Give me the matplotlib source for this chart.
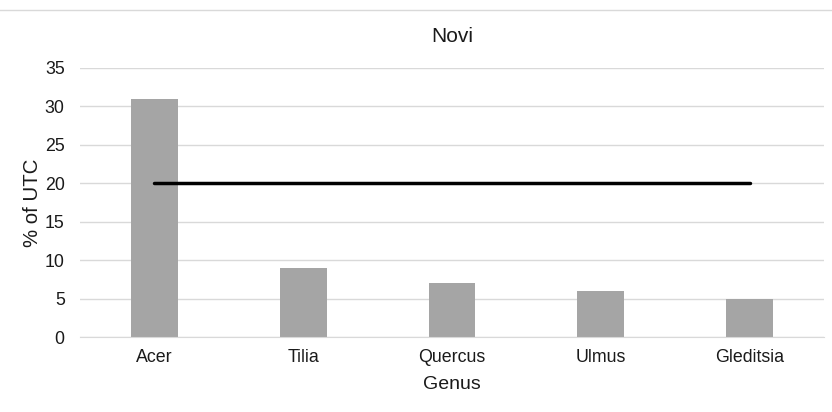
import matplotlib.pyplot as plt
from matplotlib.lines import Line2D

plt.rcParams['font.family'] = ['Liberation Sans', 'DejaVu Sans']

genus = ['Acer', 'Tilia', 'Quercus', 'Ulmus', 'Gleditsia']
utc_share = [31, 9, 7, 6, 5]
threshold = [20, 20, 20, 20, 20]

BAR_COLOR = '#a5a5a5'
GRID_COLOR = '#d9d9d9'
TEXT_COLOR = '#1a1a1a'

fig = plt.figure(figsize=(8.32, 4.12), dpi=100)
ax = fig.add_axes([80 / 832, 75 / 412, 744 / 832, 269 / 412])

x = list(range(len(genus)))
ax.bar(x, utc_share, width=0.315, color=BAR_COLOR, zorder=2)
ax.plot(x, threshold, color='black', linewidth=2.5, solid_capstyle='round', zorder=3)

ax.set_xlim(-0.5, len(genus) - 0.5)
ax.set_ylim(0, 35)
ax.set_yticks(range(0, 36, 5))
ax.set_xticks(x)
ax.set_xticklabels(genus)
ax.yaxis.grid(True, color=GRID_COLOR, linewidth=1, zorder=0)
ax.set_axisbelow(True)
for side in ['top', 'right', 'left']:
    ax.spines[side].set_visible(False)
ax.spines['bottom'].set_color(GRID_COLOR)
ax.tick_params(axis='both', length=0, labelsize=12.8, colors=TEXT_COLOR)
ax.tick_params(axis='y', pad=11)
ax.tick_params(axis='x', pad=9)

ax.set_title('Novi', fontsize=15, color=TEXT_COLOR, pad=18.5)
ax.set_xlabel('Genus', fontsize=14, color=TEXT_COLOR, labelpad=7)
ax.set_ylabel('% of UTC', fontsize=14.7, color=TEXT_COLOR, labelpad=2)

# light border line along the top of the chart area
fig.add_artist(Line2D([0, 1], [1 - 10 / 412, 1 - 10 / 412], color=GRID_COLOR, linewidth=1))

fig.savefig('out.png', dpi=100)
